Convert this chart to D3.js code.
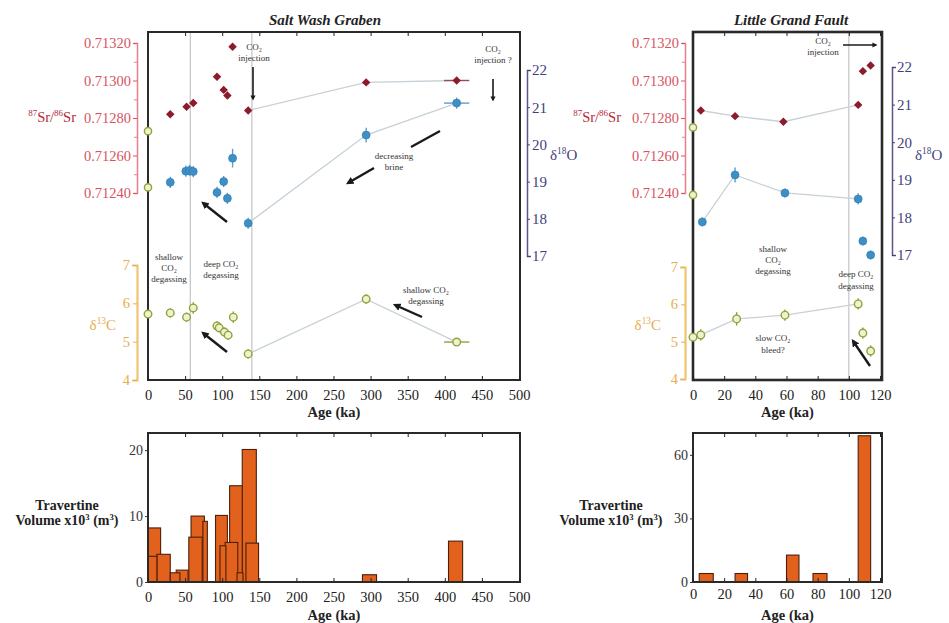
<!DOCTYPE html>
<html><head><meta charset="utf-8">
<script src="https://cdn.jsdelivr.net/npm/d3@7"></script>
<style>body{margin:0;background:#fff}</style>
</head><body>
<svg id="c" width="949" height="623"></svg>
<script>
// ---------------- DATA ----------------
// Salt Wash Graben (top panel)
const swSrAge = [30, 52, 61, 93, 102, 107, 114, 135, 294, 416];
const swSr    = [0.71282, 0.71286, 0.71288, 0.71302, 0.71295, 0.71292, 0.71318, 0.71284, 0.71299, 0.71300];
const swSrAgeErr = [0, 0, 0, 0, 0, 0, 0, 0, 4, 17];
const swSrLink = [7, 8, 9];
const swSrSpring = [0.71273, 0.71243];

const swOAge = [30, 51, 56, 61, 93, 102, 107, 114, 135, 294, 416];
const swO    = [18.98, 19.28, 19.30, 19.27, 18.71, 19.00, 18.55, 19.63, 17.88, 20.25, 21.11];
const swOErr = [0.15, 0.15, 0.15, 0.15, 0.15, 0.15, 0.15, 0.25, 0.15, 0.2, 0.15];
const swOAgeErr = [0, 0, 0, 0, 0, 0, 0, 0, 0, 5, 17];
const swOLink = [8, 9, 10];

const swCAge = [0, 30, 52, 61, 93, 96, 103, 108, 115, 135, 294, 416];
const swC    = [5.72, 5.75, 5.64, 5.88, 5.41, 5.36, 5.25, 5.17, 5.64, 4.68, 6.11, 4.99];
const swCErr = [0.1, 0.12, 0.12, 0.15, 0.12, 0.12, 0.12, 0.12, 0.15, 0.12, 0.12, 0.08];
const swCAgeErr = [0, 0, 0, 0, 0, 0, 0, 0, 0, 0, 5, 17];
const swCLink = [9, 10, 11];
const swVLines = [57, 140];

// Little Grand Fault (top panel)
const lgSrAge = [5, 27, 58, 106, 109, 114];
const lgSr    = [0.71284, 0.71281, 0.71278, 0.71287, 0.71305, 0.71308];
const lgSrLink = [0, 1, 2, 3];
const lgSrSpring = [0.71275, 0.71239];

const lgOAge = [6, 27, 59, 106, 109, 114];
const lgO    = [17.88, 19.13, 18.65, 18.49, 17.37, 17.00];
const lgOErr = [0.12, 0.2, 0.12, 0.15, 0.12, 0.12];
const lgOLink = [0, 1, 2, 3];

const lgCAge = [0, 5, 28, 59, 106, 109, 114];
const lgC    = [5.12, 5.18, 5.61, 5.71, 6.01, 5.23, 4.75];
const lgCErr = [0.05, 0.15, 0.18, 0.15, 0.15, 0.15, 0.15];
const lgCLink = [0, 1, 2, 3, 4];
const lgVLines = [100];

// Tick labels
const srTicks = [0.71240, 0.71260, 0.71280, 0.71300, 0.71320];
const srMinor = [0.71250, 0.71270, 0.71290, 0.71310];
const oTicks = [17, 18, 19, 20, 21, 22];
const cTicks = [4, 5, 6, 7];
const swAgeTicks = [0, 50, 100, 150, 200, 250, 300, 350, 400, 450, 500];
const lgAgeTicks = [0, 20, 40, 60, 80, 100, 120];

// Travertine volume histograms (x10^3 m^3)
const swHistStart = [0, 0, 12, 30, 38, 55, 74, 58, 91, 97, 104, 110, 120, 127, 132, 289, 405];
const swHistEnd   = [17, 12, 30, 43, 54, 73, 80, 76, 107, 105, 121, 127, 128, 146, 149, 308, 424];
const swHistVol   = [8.2, 3.9, 4.2, 1.4, 1.8, 6.8, 9.2, 10, 10.1, 5.5, 6, 14.6, 1.4, 20.1, 5.9, 1.1, 6.2];
const swVolTicks = [0, 10, 20];

const lgHistStart = [4, 27, 60, 77, 106];
const lgHistEnd   = [13, 35, 68, 86, 114];
const lgHistVol   = [4, 4, 12.7, 4, 69];
const lgVolTicks = [0, 30, 60];

// ---------------- DRAWING ----------------
const FONT = "'Liberation Serif','Times New Roman',serif";
const svg = d3.select('#c').style('font-family', FONT);
const defs = svg.append('defs');
defs.append('marker').attr('id', 'ah').attr('viewBox', '0 0 10 10')
  .attr('refX', 7).attr('refY', 5).attr('markerWidth', 3.2).attr('markerHeight', 3.2)
  .attr('orient', 'auto').append('path').attr('d', 'M0,0L10,5L0,10z').attr('fill', '#1a1a1a');

const C = {
  srTick: '#d7545f', srLabel: '#b3283a', srAxis: '#e8808a', srMark: '#8e1b2b',
  oTick: '#3f3f7e', oAxis: '#55558f', oMark: '#3d8fc6',
  cTick: '#e6ae52', cAxis: '#f1c46f', cStroke: '#8fa33a', cFill: '#eef2cf',
  link: '#c7d1d8', vline: '#c6c9cc', bar: '#e2621d', barStroke: '#4a200c'
};

function supText(g, x, y, parts, opts) {
  const t = g.append('text').attr('x', x).attr('y', y)
    .attr('text-anchor', opts.anchor || 'start').attr('fill', opts.fill)
    .attr('font-size', opts.size).attr('font-weight', opts.weight || 'normal');
  let sup = false;
  parts.forEach(p => {
    const isSup = p.startsWith('^');
    const s = t.append('tspan').text(isSup ? p.slice(1) : p);
    if (isSup) { s.attr('font-size', opts.size * 0.62).attr('dy', sup ? 0 : -opts.size * 0.38); }
    else { s.attr('dy', sup ? opts.size * 0.38 : 0); }
    sup = isSup;
  });
  return t;
}

function styleAxis(sel, color, size) {
  sel.selectAll('text').attr('fill', color).attr('font-size', size).style('font-family', FONT);
  sel.selectAll('line').attr('stroke', color);
  sel.selectAll('path').attr('stroke', color);
}

function topPanel(p) {
  const g = svg.append('g');
  const [fx0, fy0, fx1, fy1] = p.frame;
  const x = d3.scaleLinear().domain(p.xDomain).range(p.xRange);
  const ySr = d3.scaleLinear().domain([0.71240, 0.71320]).range(p.srRange);
  const yO = d3.scaleLinear().domain([17, 22]).range(p.oRange);
  const yC = d3.scaleLinear().domain([4, 7]).range(p.cRange);

  // vertical reference lines
  g.selectAll('.vl').data(p.vlines).enter().append('line')
    .attr('x1', d => x(d)).attr('x2', d => x(d)).attr('y1', fy0).attr('y2', fy1)
    .attr('stroke', C.vline).attr('stroke-width', 1.3);

  // trend links
  const link = (ages, vals, idx, ys) => {
    const line = d3.line().x(i => x(ages[i])).y(i => ys(vals[i]));
    g.append('path').attr('d', line(idx)).attr('fill', 'none')
      .attr('stroke', C.link).attr('stroke-width', 1.3);
  };
  link(p.srAge, p.sr, p.srLink, ySr);
  link(p.oAge, p.o, p.oLink, yO);
  link(p.cAge, p.c, p.cLink, yC);

  // frame
  g.append('rect').attr('x', fx0).attr('y', fy0).attr('width', fx1 - fx0).attr('height', fy1 - fy0)
    .attr('fill', 'none').attr('stroke', '#2a2a2a').attr('stroke-width', p.frameW);

  // x axes (inward ticks)
  const xb = g.append('g').attr('transform', `translate(0,${fy1})`)
    .call(d3.axisBottom(x).tickValues(p.xTicks).tickSize(-4).tickSizeOuter(0).tickPadding(10));
  xb.select('.domain').remove();
  styleAxis(xb, '#222', 14.5);
  const xt = g.append('g').attr('transform', `translate(0,${fy0})`)
    .call(d3.axisTop(x).tickValues(p.xTicks).tickSize(-4).tickSizeOuter(0).tickFormat(''));
  xt.select('.domain').remove();
  styleAxis(xt, '#222', 14);
  g.append('text').attr('x', (fx0 + fx1) / 2).attr('y', fy1 + 37).attr('text-anchor', 'middle')
    .attr('font-weight', 'bold').attr('font-size', 14.5).attr('fill', '#222').text('Age (ka)');

  // Sr axis
  const sa = g.append('g').attr('transform', `translate(${p.srAxisX},0)`)
    .call(d3.axisLeft(ySr).tickValues(srTicks).tickFormat(d3.format('.5f')).tickSize(4).tickSizeOuter(3).tickPadding(2));
  styleAxis(sa, C.srTick, 14.5);
  sa.select('.domain').attr('stroke', C.srAxis).attr('stroke-width', 1.5);
  const sm = g.append('g').attr('transform', `translate(${p.srAxisX},0)`)
    .call(d3.axisLeft(ySr).tickValues(srMinor).tickFormat('').tickSize(3));
  sm.select('.domain').remove();
  styleAxis(sm, C.srAxis, 10);
  supText(g, p.srLabel[0], p.srLabel[1], ['^87', 'Sr/', '^86', 'Sr'], { anchor: 'end', fill: C.srLabel, size: 14.5 });

  // O axis
  const oa = g.append('g').attr('transform', `translate(${p.oAxisX},0)`)
    .call(d3.axisRight(yO).tickValues(oTicks).tickFormat(d3.format('d')).tickSize(3).tickSizeOuter(4).tickPadding(2));
  styleAxis(oa, C.oTick, 15);
  oa.select('.domain').attr('stroke', C.oAxis).attr('stroke-width', 1.5);
  supText(g, p.oLabel[0], p.oLabel[1], ['δ', '^18', 'O'], { anchor: 'start', fill: C.oTick, size: 15 });

  // C axis
  const ca = g.append('g').attr('transform', `translate(${p.srAxisX},0)`)
    .call(d3.axisLeft(yC).tickValues(cTicks).tickFormat(d3.format('d')).tickSize(4).tickSizeOuter(5).tickPadding(3));
  styleAxis(ca, C.cTick, 14.5);
  ca.select('.domain').attr('stroke', C.cAxis).attr('stroke-width', 2.2);
  supText(g, p.cLabel[0], p.cLabel[1], ['δ', '^13', 'C'], { anchor: 'end', fill: C.cTick, size: 15 });

  // error bars helper
  const errs = (ages, vals, yerr, xerr, ys, color) => {
    ages.forEach((a, i) => {
      if (yerr && yerr[i]) g.append('line').attr('x1', x(a)).attr('x2', x(a))
        .attr('y1', ys(vals[i] - yerr[i])).attr('y2', ys(vals[i] + yerr[i]))
        .attr('stroke', color).attr('stroke-width', 1.4);
      if (xerr && xerr[i]) g.append('line').attr('x1', x(a - xerr[i])).attr('x2', x(a + xerr[i]))
        .attr('y1', ys(vals[i])).attr('y2', ys(vals[i]))
        .attr('stroke', color).attr('stroke-width', 1.4);
    });
  };

  // Sr markers
  errs(p.srAge, p.sr, null, p.srAgeErr, ySr, '#9a4a55');
  g.selectAll('.sr').data(p.srAge).enter().append('path')
    .attr('transform', (d, i) => `translate(${x(d)},${ySr(p.sr[i])}) rotate(45)`)
    .attr('d', d3.symbol(d3.symbolSquare, 36)).attr('fill', C.srMark);
  // spring Sr (green at age 0)
  g.selectAll('.srs').data(p.srSpring).enter().append('circle')
    .attr('cx', x(0)).attr('cy', d => ySr(d)).attr('r', 3.6)
    .attr('fill', C.cFill).attr('stroke', C.cStroke).attr('stroke-width', 1.4);

  // O markers
  errs(p.oAge, p.o, p.oErr, p.oAgeErr, yO, '#5a9fcf');
  g.selectAll('.o').data(p.oAge).enter().append('circle')
    .attr('cx', d => x(d)).attr('cy', (d, i) => yO(p.o[i])).attr('r', 4)
    .attr('fill', C.oMark).attr('stroke', '#2f79ad').attr('stroke-width', 0.6);

  // C markers
  errs(p.cAge, p.c, p.cErr, p.cAgeErr, yC, C.cStroke);
  g.selectAll('.c').data(p.cAge).enter().append('circle')
    .attr('cx', d => x(d)).attr('cy', (d, i) => yC(p.c[i])).attr('r', 3.8)
    .attr('fill', C.cFill).attr('stroke', C.cStroke).attr('stroke-width', 1.4);

  // title
  g.append('text').attr('x', p.title[1]).attr('y', 25).attr('text-anchor', 'middle')
    .attr('font-weight', 'bold').attr('font-style', 'italic').attr('font-size', 15)
    .attr('fill', '#222').text(p.title[0]);
  return { g, x };
}

function note(g, cx, ys, lines, size) {
  lines.forEach((l, i) => g.append('text').attr('x', cx).attr('y', ys[i]).attr('text-anchor', 'middle')
    .attr('font-size', size || 9).attr('fill', '#333').text(l));
}
function arrow(g, x1, y1, x2, y2, w) {
  g.append('line').attr('x1', x1).attr('y1', y1).attr('x2', x2).attr('y2', y2)
    .attr('stroke', '#1a1a1a').attr('stroke-width', w).attr('marker-end', 'url(#ah)');
}

// Salt Wash Graben top
const sw = topPanel({
  title: ['Salt Wash Graben', 325],
  frame: [148, 32, 520, 380], frameW: 2,
  xDomain: [0, 500], xRange: [148, 519], xTicks: swAgeTicks,
  srRange: [193, 43], oRange: [256, 70], cRange: [380, 265],
  srAxisX: 137, oAxisX: 527,
  srLabel: [76, 122], oLabel: [550, 160], cLabel: [116, 330],
  srAge: swSrAge, sr: swSr, srAgeErr: swSrAgeErr, srLink: swSrLink, srSpring: swSrSpring,
  oAge: swOAge, o: swO, oErr: swOErr, oAgeErr: swOAgeErr, oLink: swOLink,
  cAge: swCAge, c: swC, cErr: swCErr, cAgeErr: swCAgeErr, cLink: swCLink,
  vlines: swVLines
});
note(sw.g, 254, [50, 61], ['CO₂', 'injection']);
arrow(sw.g, 253, 67, 253, 99, 1.6);
note(sw.g, 493, [52, 63], ['CO₂', 'injection ?']);
arrow(sw.g, 493, 79, 493, 100, 1.6);
note(sw.g, 394, [159, 170], ['decreasing', 'brine']);
sw.g.append('line').attr('x1', 440).attr('y1', 131).attr('x2', 411).attr('y2', 147).attr('stroke', '#1a1a1a').attr('stroke-width', 2.4);
arrow(sw.g, 374, 168, 348, 183, 2.4);
note(sw.g, 169, [260, 271, 282], ['shallow', 'CO₂', 'degassing']);
note(sw.g, 221, [267, 278], ['deep CO₂', 'degassing']);
arrow(sw.g, 227, 222, 203, 203, 2.4);
arrow(sw.g, 227, 352, 203, 333, 2.4);
note(sw.g, 426, [293, 304], ['shallow CO₂', 'degassing']);
arrow(sw.g, 422, 317, 395, 305, 2.4);

// Little Grand Fault top
const lg = topPanel({
  title: ['Little Grand Fault', 791],
  frame: [693, 32, 882, 380], frameW: 2.6,
  xDomain: [0, 120], xRange: [693, 880], xTicks: lgAgeTicks,
  srRange: [193, 43], oRange: [255, 67], cRange: [379, 267],
  srAxisX: 685, oAxisX: 892,
  srLabel: [621, 122], oLabel: [915, 160], cLabel: [661, 330],
  srAge: lgSrAge, sr: lgSr, srAgeErr: null, srLink: lgSrLink, srSpring: lgSrSpring,
  oAge: lgOAge, o: lgO, oErr: lgOErr, oAgeErr: null, oLink: lgOLink,
  cAge: lgCAge, c: lgC, cErr: lgCErr, cAgeErr: null, cLink: lgCLink,
  vlines: lgVLines
});
note(lg.g, 823, [44, 55], ['CO₂', 'injection']);
arrow(lg.g, 843, 45, 876, 45, 1.6);
note(lg.g, 773, [252, 263, 274], ['shallow', 'CO₂', 'degassing']);
note(lg.g, 856, [277, 289], ['deep CO₂', 'degassing']);
note(lg.g, 773, [341, 353], ['slow CO₂', 'bleed?']);
arrow(lg.g, 870, 366, 853, 341, 2.4);

// Histograms
function hist(p) {
  const g = svg.append('g');
  const [fx0, fy0, fx1, fy1] = p.frame;
  const x = d3.scaleLinear().domain(p.xDomain).range(p.xRange);
  const y = d3.scaleLinear().domain(p.yDomain).range([fy1, fy0]);
  const bars = p.start.map((s, i) => ({ s, e: p.end[i], v: p.vol[i] }))
    .sort((a, b) => b.v - a.v);
  g.selectAll('.bar').data(bars).enter().append('rect')
    .attr('x', d => x(d.s)).attr('width', d => x(d.e) - x(d.s))
    .attr('y', d => y(d.v)).attr('height', d => y(0) - y(d.v))
    .attr('fill', C.bar).attr('stroke', C.barStroke).attr('stroke-width', 1.1);
  g.append('rect').attr('x', fx0).attr('y', fy0).attr('width', fx1 - fx0).attr('height', fy1 - fy0)
    .attr('fill', 'none').attr('stroke', '#2a2a2a').attr('stroke-width', 2);
  const xb = g.append('g').attr('transform', `translate(0,${fy1})`)
    .call(d3.axisBottom(x).tickValues(p.xTicks).tickSize(-4).tickSizeOuter(0).tickPadding(p.pad));
  xb.select('.domain').remove();
  styleAxis(xb, '#222', 14.5);
  const xt = g.append('g').attr('transform', `translate(0,${fy0})`)
    .call(d3.axisTop(x).tickValues(p.xTicks).tickSize(-4).tickSizeOuter(0).tickFormat(''));
  xt.select('.domain').remove();
  styleAxis(xt, '#222', 14);
  const ya = g.append('g').attr('transform', `translate(${fx0},0)`)
    .call(d3.axisLeft(y).tickValues(p.yTicks).tickSize(3).tickSizeOuter(0).tickPadding(2));
  ya.select('.domain').remove();
  styleAxis(ya, '#333', 14);
  g.append('text').attr('x', (fx0 + fx1) / 2).attr('y', 620).attr('text-anchor', 'middle')
    .attr('font-weight', 'bold').attr('font-size', 14.5).attr('fill', '#222').text('Age (ka)');
  g.append('text').attr('x', p.labelX).attr('y', 510).attr('text-anchor', 'middle')
    .attr('font-weight', 'bold').attr('font-size', 14).attr('fill', '#222').text('Travertine');
  supText(g, p.labelX, 525, ['Volume x10', '^3', ' (m', '^3', ')'], { anchor: 'middle', fill: '#222', size: 14, weight: 'bold' });
}
hist({ frame: [148, 433, 520, 582], xDomain: [0, 500], xRange: [148, 519], xTicks: swAgeTicks,
  yDomain: [0, 22.6], yTicks: swVolTicks, start: swHistStart, end: swHistEnd, vol: swHistVol, labelX: 67, pad: 10 });
hist({ frame: [693, 433, 882, 582], xDomain: [0, 120], xRange: [693, 880], xTicks: lgAgeTicks,
  yDomain: [0, 70.3], yTicks: lgVolTicks, start: lgHistStart, end: lgHistEnd, vol: lgHistVol, labelX: 611, pad: 7 });
</script>
</body></html>
